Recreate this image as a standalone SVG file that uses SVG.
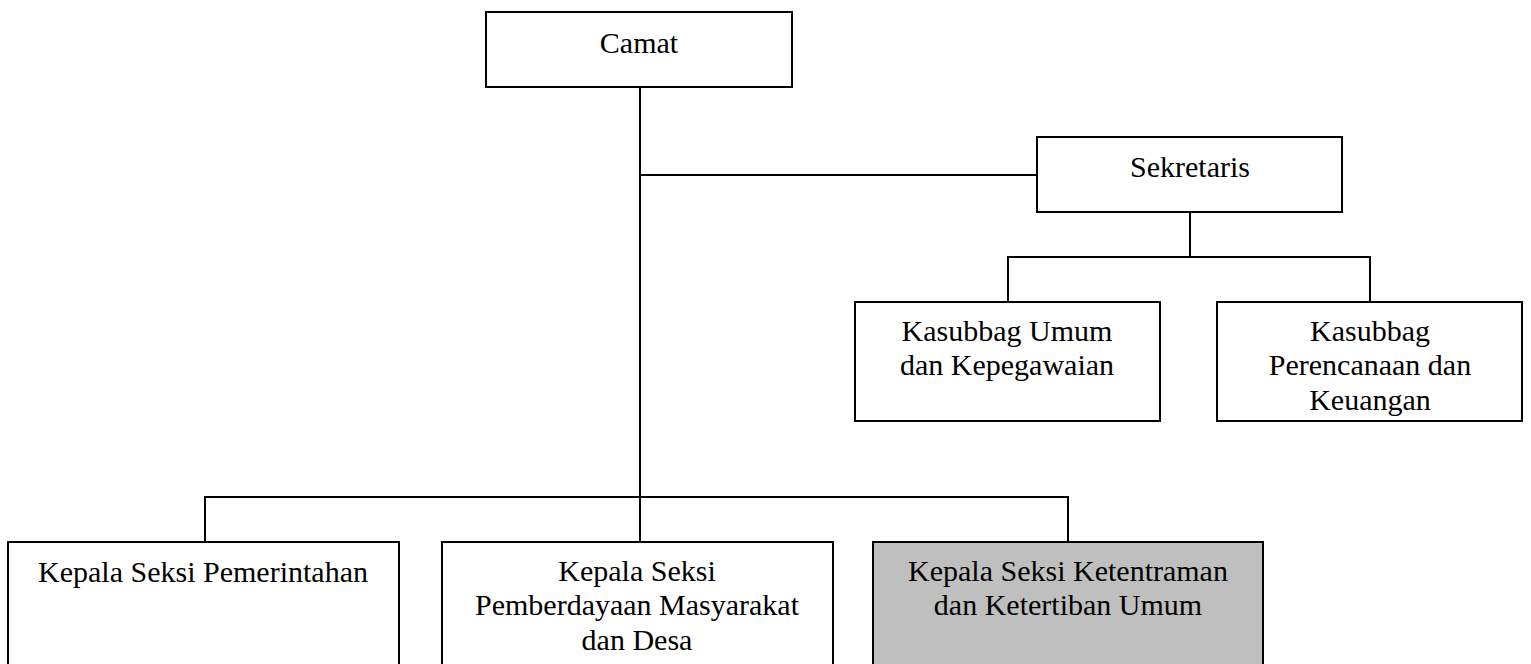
<svg xmlns="http://www.w3.org/2000/svg" width="1531" height="664" viewBox="0 0 1531 664">
  <style>
    .box { fill: #ffffff; stroke: #000000; stroke-width: 2; }
    .box.shaded { fill: #bfbfbf; }
    .link { fill: none; stroke: #000000; stroke-width: 2; }
    text { font-family: "Liberation Serif", "Times New Roman", serif; font-size: 30px; fill: #000000; text-anchor: middle; }
  </style>
  <rect width="1531" height="664" fill="#ffffff"/>

  <g id="connectors">
    <path class="link" d="M640 87 V542"/>
    <path class="link" d="M640 175 H1037"/>
    <path class="link" d="M1190 212 V257"/>
    <path class="link" d="M1008 302 V257 H1370 V302"/>
    <path class="link" d="M205 542 V497 H1068 V542"/>
  </g>

  <g id="camat">
    <rect class="box" x="486" y="12" width="306" height="75"/>
    <text x="639" y="53">Camat</text>
  </g>

  <g id="sekretaris">
    <rect class="box" x="1037" y="137" width="305" height="75"/>
    <text x="1190" y="177">Sekretaris</text>
  </g>

  <g id="kasubbag-umum">
    <rect class="box" x="855" y="302" width="305" height="119"/>
    <text x="1007" y="341">Kasubbag Umum</text>
    <text x="1007" y="375">dan Kepegawaian</text>
  </g>

  <g id="kasubbag-perencanaan">
    <rect class="box" x="1217" y="302" width="305" height="119"/>
    <text x="1370" y="341">Kasubbag</text>
    <text x="1370" y="375">Perencanaan dan</text>
    <text x="1370" y="410">Keuangan</text>
  </g>

  <g id="kasi-pemerintahan">
    <rect class="box" x="8" y="542" width="391" height="140"/>
    <text x="203" y="582">Kepala Seksi Pemerintahan</text>
  </g>

  <g id="kasi-pemberdayaan">
    <rect class="box" x="442" y="542" width="391" height="140"/>
    <text x="637" y="581">Kepala Seksi</text>
    <text x="637" y="615">Pemberdayaan Masyarakat</text>
    <text x="637" y="650">dan Desa</text>
  </g>

  <g id="kasi-trantib">
    <rect class="box shaded" x="873" y="542" width="390" height="140"/>
    <text x="1068" y="581">Kepala Seksi Ketentraman</text>
    <text x="1068" y="615">dan Ketertiban Umum</text>
  </g>
</svg>
